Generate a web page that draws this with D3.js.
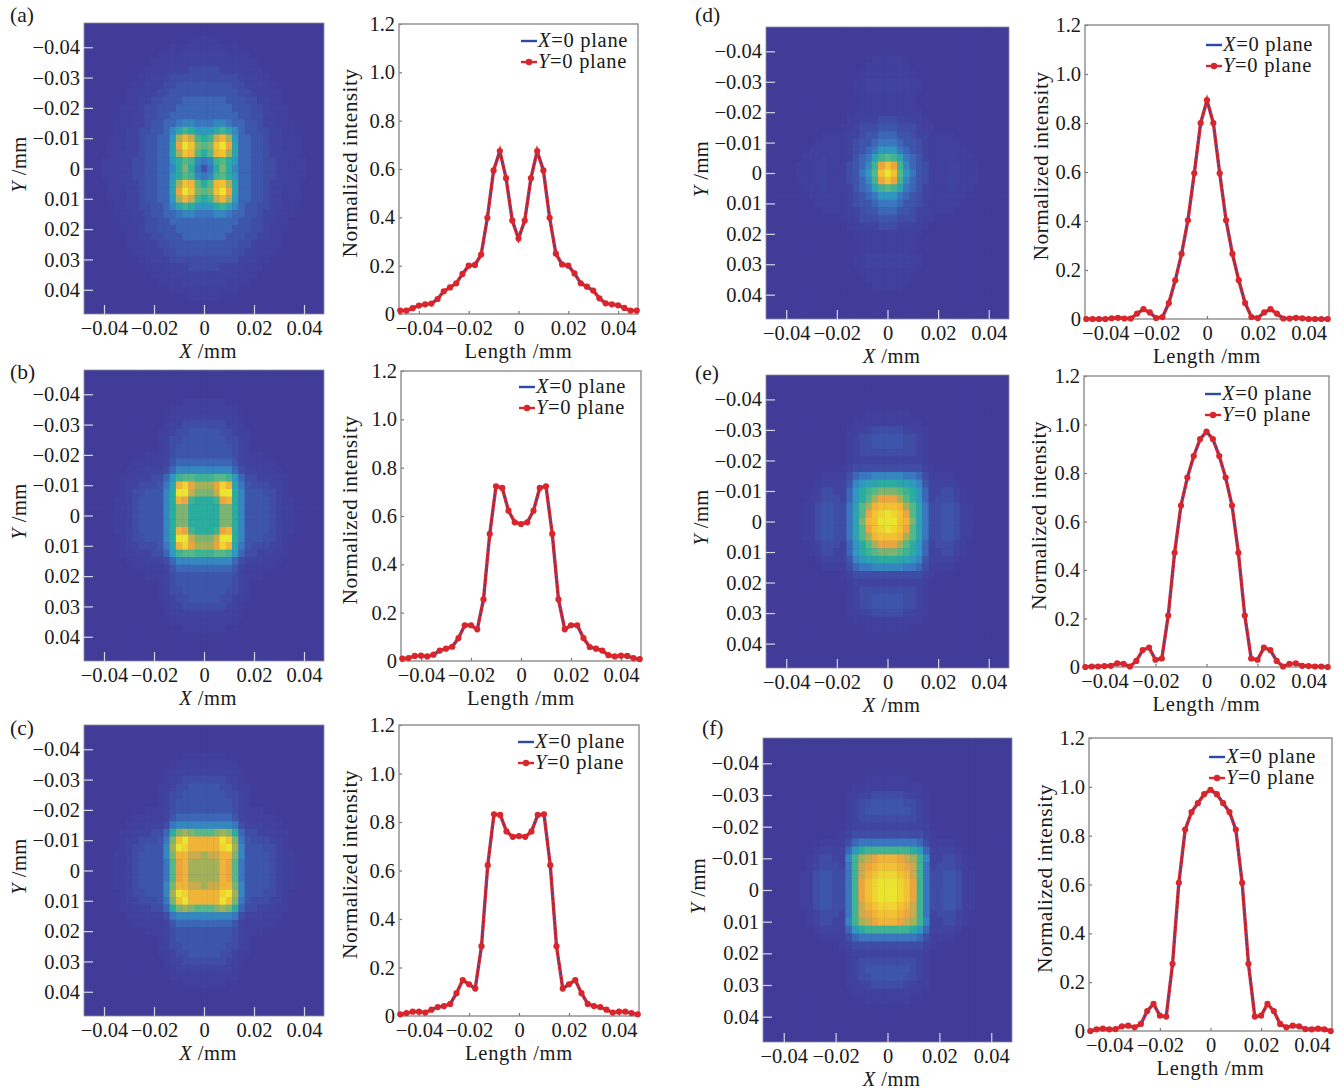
<!DOCTYPE html>
<html>
<head>
<meta charset="utf-8">
<script src="https://cdn.jsdelivr.net/npm/d3@7"></script>
<style>
  html, body { margin: 0; background: #fff; }
  svg { display: block; }
  text { font-family: "Liberation Serif", serif; fill: #1a1a1a; }
</style>
</head>
<body>
<div id="chart"></div>
<script>
// tick values
const heatXTicks = [-0.04, -0.02, 0, 0.02, 0.04];
const heatYTicks = [-0.04, -0.03, -0.02, -0.01, 0, 0.01, 0.02, 0.03, 0.04];
const lineXTicks = [-0.04, -0.02, 0, 0.02, 0.04];
const lineYTicks = [0, 0.2, 0.4, 0.6, 0.8, 1.0, 1.2];

// sample positions along the plane, 39 samples
const lengths = d3.range(-19, 20).map(k => k * 0.0025);

// normalized intensity, the X=0 and Y=0 planes overlap in the picture
const profileA = [.014,.014,.024,.035,.04,.043,.062,.094,.11,.127,.166,.2,.203,.246,.398,.594,.674,.562,.387,.312,.387,.562,.674,.594,.398,.25,.205,.2,.168,.127,.113,.097,.065,.044,.04,.036,.025,.014,.014];
const profileB = [.01,.012,.021,.022,.019,.026,.043,.051,.059,.095,.148,.148,.131,.255,.526,.723,.716,.622,.574,.567,.574,.622,.716,.723,.526,.255,.131,.148,.148,.095,.058,.051,.043,.024,.019,.022,.021,.012,.008];
const profileC = [.007,.012,.018,.018,.014,.026,.037,.041,.05,.094,.148,.131,.113,.288,.622,.832,.829,.761,.739,.742,.739,.761,.829,.832,.622,.288,.113,.131,.148,.094,.05,.041,.037,.026,.014,.018,.018,.012,.007];
const profileD = [0,0,0,0,.003,.005,.002,.002,.022,.04,.027,.004,.008,.065,.158,.266,.403,.595,.8,.893,.8,.595,.403,.266,.158,.065,.008,.004,.027,.04,.022,.002,.002,.005,.003,0,0,0,0];
const profileE = [0,.002,.002,.004,.005,.015,.013,.002,.025,.07,.08,.03,.035,.212,.471,.666,.781,.87,.94,.971,.94,.87,.781,.666,.471,.212,.035,.03,.08,.07,.025,.002,.013,.015,.005,.004,.002,.002,0];
const profileF = [0,.007,.01,.007,.008,.019,.022,.015,.029,.082,.111,.063,.059,.275,.607,.825,.897,.933,.97,.988,.97,.933,.897,.825,.607,.275,.059,.063,.111,.082,.029,.015,.022,.019,.008,.007,.01,.007,0];

// heat map levels 0-20, one quadrant read outward from the centre cell
// (rows = |y| step, columns = |x| step, what is left out of a row is 0)
const heatA = [
  [4,6,10,13,10,7,5,5,4,4,3,3,2,2,1,1,1],
  [6,7,11,12,10,8,5,5,4,4,3,3,2,2,1,1,1],
  [10,12,17,18,14,9,5,5,4,4,3,2,2,2,1,1],
  [12,13,18,20,16,9,5,5,4,4,3,2,2,1,1,1],
  [10,11,15,17,14,8,5,5,4,4,3,2,2,1,1,1],
  [8,8,10,11,9,7,5,4,4,3,3,2,2,1,1],
  [6,6,7,7,6,5,5,4,4,3,2,2,1,1,1],
  [5,5,5,5,5,5,4,4,3,3,2,2,1,1],
  [5,5,5,5,5,4,4,4,3,3,2,1,1,1],
  [5,5,5,5,4,4,4,3,3,2,2,1,1],
  [4,4,4,4,4,4,3,3,2,2,1,1,1],
  [4,4,4,4,4,3,3,2,2,2,1,1],
  [3,3,3,3,3,3,2,2,2,1,1],
  [3,3,3,2,2,2,2,1,1,1],
  [2,2,2,2,2,2,1,1,1],
  [2,2,2,2,1,1,1,1],
  [1,1,1,1,1,1],
  [1,1,1]
];
const heatB = [
  [10,10,10,13,13,10,7,4,4,4,4,3,2,1,1],
  [10,10,10,13,13,10,7,4,4,4,4,3,2,1,1],
  [10,10,11,16,17,10,7,4,4,4,4,3,2,1,1],
  [13,13,15,20,20,10,7,4,4,4,3,3,2,1],
  [14,14,16,19,17,9,6,4,3,3,3,2,2,1],
  [11,11,12,12,11,8,5,3,3,2,2,2,1,1],
  [7,7,7,7,7,5,3,2,2,2,1,1,1],
  [5,5,5,5,5,4,2,1,1,1,1,1],
  [4,4,4,4,4,3,2,1,1,1],
  [4,4,4,4,4,3,2,1],
  [4,4,4,4,3,3,2,1],
  [4,4,4,3,3,2,1,1],
  [3,3,3,3,2,2,1],
  [2,2,2,2,2,1,1],
  [1,1,1,1,1,1],
  [1,1,1,1]
];
const heatC = [
  [14,14,14,17,16,12,6,4,4,4,4,3,2,1,1],
  [14,14,14,17,16,12,6,4,4,4,4,3,2,1,1],
  [14,15,15,17,17,13,7,4,4,4,4,3,2,1,1],
  [17,17,17,19,20,14,7,4,4,4,3,3,2,1],
  [17,17,17,20,18,13,6,4,3,3,3,2,2,1],
  [12,12,13,14,13,10,5,3,3,2,2,2,1,1],
  [7,7,7,7,7,6,3,2,2,2,1,1,1],
  [5,5,5,5,5,4,2,1,1,1,1,1],
  [4,4,4,4,4,3,2,1,1,1],
  [4,4,4,4,4,3,2,1],
  [4,4,4,4,3,3,2,1],
  [4,4,4,3,3,2,1,1],
  [3,3,3,3,2,2,1],
  [2,2,2,2,2,1,1],
  [1,1,1,1,1,1],
  [1,1,1,1]
];
const heatD = [
  [20,18,12,8,6,4,3,1,1,1,2,2,1,1,1],
  [18,16,11,7,5,4,3,1,1,1,2,2,1,1,1],
  [12,11,9,6,5,4,2,1,1,1,2,1,1,1],
  [8,8,6,5,4,3,2,1,1,1,1,1,1],
  [6,6,5,4,4,3,2,1,1,1,1,1],
  [5,5,4,4,3,2,2,1,1,1,1],
  [4,4,3,3,3,2,1,1],
  [3,3,2,2,2,1,1],
  [1,1,1,1,1,1],
  [1,1,1,1,1],
  [1,1,1,1,1],
  [2,2,2,2,1,1],
  [2,2,2,2,1,1],
  [1,1,1,1,1],
  [1,1,1,1],
  [1,1,1]
];
const heatE = [
  [20,20,18,17,13,9,6,3,3,4,4,3,1,1],
  [20,19,18,16,12,9,6,3,3,4,4,3,1,1],
  [18,18,17,14,12,9,6,3,3,4,4,3,1,1],
  [16,16,14,12,10,8,5,2,3,3,3,2,1],
  [13,13,12,11,10,8,5,2,2,3,3,2,1],
  [10,10,9,9,8,7,4,2,2,2,2,1],
  [7,7,7,6,6,5,3,1,1,1,1],
  [3,3,3,3,3,3,2,1],
  [2,2,2,2,2,2,1],
  [3,3,3,3,3,2,1],
  [4,4,4,3,3,2,1],
  [4,4,4,3,3,2,1],
  [3,3,3,2,2,1,1],
  [1,1,1,1,1,1],
  [1,1,1,1]
];
const heatF = [
  [20,20,19,18,16,11,6,3,3,4,4,3,1,1],
  [20,20,19,18,16,11,6,3,3,4,4,3,1,1],
  [19,19,18,17,15,11,6,3,3,4,4,3,1,1],
  [18,18,17,16,15,11,6,2,3,3,3,2,1],
  [17,17,16,15,14,11,7,2,2,3,3,2,1],
  [11,11,11,11,10,8,5,2,2,2,2,1],
  [6,6,6,6,6,5,3,1,1,1,1],
  [3,3,3,3,3,3,2,1],
  [2,2,2,2,2,2,1],
  [3,3,3,3,3,2,1],
  [4,4,4,4,3,2,1],
  [4,4,4,3,3,2,1],
  [3,3,3,2,2,1,1],
  [1,1,1,1,1,1],
  [1,1,1,1]
];

const colorLevels = [0, 2, 4, 6, 8, 10, 12, 14, 16, 18, 20];
const colorStops = ['#423c99', '#40449e', '#3d56ac', '#3b76c0', '#2f98c0', '#2aad9e', '#55b888', '#a3b25a', '#eca53f', '#f3c233', '#ece52f'];
const color = d3.scaleLinear().domain(colorLevels).range(colorStops);

// layout of the six panels
const panels = [
  { tag: '(a)', tagX: 10, tagY: 22, heat: heatA, profile: profileA,
    h: [84, 324, 23, 314], l: [399, 638, 24, 314], legX: 521, legY: 47, ylab: 42 },
  { tag: '(b)', tagX: 10, tagY: 379, heat: heatB, profile: profileB,
    h: [84, 324, 370, 661], l: [401, 641, 371, 661], legX: 519, legY: 393, ylab: 44 },
  { tag: '(c)', tagX: 10, tagY: 735, heat: heatC, profile: profileC,
    h: [84, 324, 725, 1016], l: [399, 639, 725, 1016], legX: 518, legY: 748, ylab: 42 },
  { tag: '(d)', tagX: 695, tagY: 22, heat: heatD, profile: profileD,
    h: [766, 1009, 27, 319], l: [1085, 1329, 25, 319], legX: 1206, legY: 51, ylab: 37 },
  { tag: '(e)', tagX: 695, tagY: 380, heat: heatE, profile: profileE,
    h: [766, 1009, 375, 668], l: [1084, 1329, 376, 667], legX: 1205, legY: 400, ylab: 38 },
  { tag: '(f)', tagX: 702, tagY: 735, heat: heatF, profile: profileF,
    h: [763, 1012, 738, 1042], l: [1089, 1332, 738, 1031], legX: 1209, legY: 763, ylab: 37 }
];

const fontSize = 21.5;
const tickFont = 20.5;
const cell = 0.0025;
const extent = 0.048;

const svg = d3.select('#chart').append('svg')
  .attr('width', 1344)
  .attr('height', 1092);

const fmt2 = d => d === 0 ? '0' : d3.format('.2f')(d);
const fmt1 = d => d === 0 ? '0' : d3.format('.1f')(d);

// text with an italic first letter, e.g. "X /mm"
function labelItalic(g, italic, rest) {
  g.append('tspan').style('font-style', 'italic').text(italic);
  g.append('tspan').text(rest);
}

panels.forEach((p, idx) => {
  svg.append('text')
    .attr('x', p.tagX).attr('y', p.tagY)
    .attr('font-size', fontSize)
    .text(p.tag);

  // heat map
  const [hl, hr, ht, hb] = p.h;
  const hx = d3.scaleLinear().domain([-extent, extent]).range([hl, hr]);
  const hy = d3.scaleLinear().domain([-extent, extent]).range([ht, hb]);

  const clipId = 'clip' + idx;
  svg.append('clipPath').attr('id', clipId)
    .append('rect')
    .attr('x', hl).attr('y', ht)
    .attr('width', hr - hl).attr('height', hb - ht);

  const cells = [];
  lengths.forEach((cy, j) => lengths.forEach((cx, i) => {
    const row = p.heat[Math.abs(j - 19)] || [];
    cells.push({ cx, cy, v: row[Math.abs(i - 19)] || 0 });
  }));

  const heatG = svg.append('g').attr('clip-path', `url(#${clipId})`);
  heatG.append('rect')
    .attr('x', hl).attr('y', ht)
    .attr('width', hr - hl).attr('height', hb - ht)
    .attr('fill', color(0));
  heatG.append('g')
    .style('filter', 'blur(0.6px)')
    .selectAll('rect')
    .data(cells)
    .join('rect')
    .attr('x', d => hx(d.cx - cell / 2))
    .attr('y', d => hy(d.cy - cell / 2))
    .attr('width', d => hx(d.cx + cell / 2) - hx(d.cx - cell / 2) + 0.4)
    .attr('height', d => hy(d.cy + cell / 2) - hy(d.cy - cell / 2) + 0.4)
    .attr('fill', d => color(d.v));

  svg.append('rect')
    .attr('x', hl).attr('y', ht)
    .attr('width', hr - hl).attr('height', hb - ht)
    .attr('fill', 'none')
    .attr('stroke', '#8a8a9a')
    .attr('stroke-width', 0.8);

  svg.append('g')
    .attr('transform', `translate(${hl},0)`)
    .call(d3.axisLeft(hy).tickValues(heatYTicks).tickFormat(fmt2).tickSize(-9).tickPadding(4))
    .call(styleAxis, '#d5d5e2');
  svg.append('g')
    .attr('transform', `translate(0,${hb})`)
    .call(d3.axisBottom(hx).tickValues(heatXTicks).tickFormat(fmt2).tickSize(-9).tickPadding(6.4))
    .call(styleAxis, '#d5d5e2');

  svg.append('text')
    .attr('x', (hl + hr) / 2 + 4)
    .attr('y', hb + 44)
    .attr('text-anchor', 'middle')
    .attr('font-size', tickFont)
    .style('letter-spacing', '0.5px')
    .call(labelItalic, 'X', ' /mm');
  svg.append('text')
    .attr('transform', `translate(${hl - 58},${(ht + hb) / 2 - 4}) rotate(-90)`)
    .attr('text-anchor', 'middle')
    .attr('font-size', tickFont)
    .style('letter-spacing', '0.5px')
    .call(labelItalic, 'Y', ' /mm');

  // profile plot
  const [ll, lr, lt, lb] = p.l;
  const lx = d3.scaleLinear().domain([-extent, extent]).range([ll, lr]);
  const ly = d3.scaleLinear().domain([0, 1.2]).range([lb, lt]);

  svg.append('g')
    .attr('transform', `translate(${ll},0)`)
    .call(d3.axisLeft(ly).tickValues(lineYTicks).tickFormat(fmt1).tickSize(-3).tickPadding(4))
    .call(styleAxis, '#777');
  svg.append('g')
    .attr('transform', `translate(0,${lb})`)
    .call(d3.axisBottom(lx).tickValues(lineXTicks).tickFormat(fmt2).tickSize(-3).tickPadding(6.4))
    .call(styleAxis, '#777');

  svg.append('rect')
    .attr('x', ll).attr('y', lt)
    .attr('width', lr - ll).attr('height', lb - lt)
    .attr('fill', 'none')
    .attr('stroke', '#8c8c8c')
    .attr('stroke-width', 1.4);

  const line = d3.line()
    .x((d, i) => lx(lengths[i]))
    .y(d => ly(d));

  svg.append('path')
    .attr('d', line(p.profile))
    .attr('fill', 'none')
    .attr('stroke', '#d8262c')
    .attr('stroke-width', 3.4);
  svg.append('path')
    .attr('d', line(p.profile))
    .attr('fill', 'none')
    .attr('stroke', '#2b4aa6')
    .attr('stroke-width', 1.4)
    .attr('stroke-dasharray', '2.5 2.5');
  svg.append('g')
    .selectAll('circle')
    .data(p.profile)
    .join('circle')
    .attr('cx', (d, i) => lx(lengths[i]))
    .attr('cy', d => ly(d))
    .attr('r', 3.1)
    .attr('fill', '#d8262c');

  svg.append('text')
    .attr('x', (ll + lr) / 2)
    .attr('y', lb + 44)
    .attr('text-anchor', 'middle')
    .attr('font-size', tickFont)
    .style('letter-spacing', '0.7px')
    .text('Length /mm');
  svg.append('text')
    .attr('transform', `translate(${ll - p.ylab},${(lt + lb) / 2 - 6}) rotate(-90)`)
    .attr('text-anchor', 'middle')
    .attr('font-size', fontSize)
    .style('letter-spacing', '0.4px')
    .text('Normalized intensity');

  // legend
  const legTextX = p.legX + 17;
  svg.append('line')
    .attr('x1', p.legX).attr('x2', p.legX + 16)
    .attr('y1', p.legY - 6).attr('y2', p.legY - 6)
    .attr('stroke', '#2b4aa6')
    .attr('stroke-width', 2.4);
  svg.append('line')
    .attr('x1', p.legX).attr('x2', p.legX + 16)
    .attr('y1', p.legY + 15).attr('y2', p.legY + 15)
    .attr('stroke', '#d8262c')
    .attr('stroke-width', 2.4);
  svg.append('circle')
    .attr('cx', p.legX + 8).attr('cy', p.legY + 15)
    .attr('r', 3.2)
    .attr('fill', '#d8262c');
  svg.append('text')
    .attr('x', legTextX).attr('y', p.legY)
    .attr('font-size', tickFont)
    .style('letter-spacing', '0.7px')
    .call(labelItalic, 'X', '=0 plane');
  svg.append('text')
    .attr('x', legTextX).attr('y', p.legY + 21)
    .attr('font-size', tickFont)
    .style('letter-spacing', '0.7px')
    .call(labelItalic, 'Y', '=0 plane');
});

function styleAxis(g, tickColor) {
  g.select('.domain').remove();
  g.selectAll('.tick line')
    .attr('stroke', tickColor)
    .attr('stroke-width', 1.2);
  g.selectAll('.tick text')
    .attr('font-size', tickFont)
    .attr('font-family', '"Liberation Serif", serif')
    .attr('fill', '#1a1a1a');
}
</script>
</body>
</html>
